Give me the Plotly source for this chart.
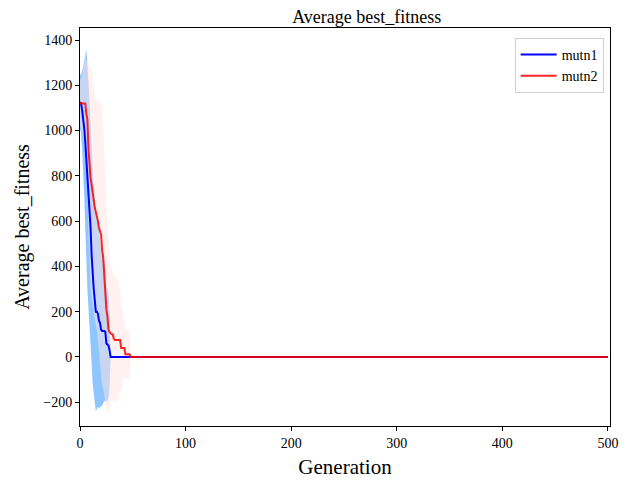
import plotly.graph_objects as go

n_gen = 501
generations = list(range(n_gen))

# mean best fitness per generation (first generations, zero afterwards)
mutn1_head = [1125, 1120, 1090, 1060, 1010, 950, 880, 800, 720, 640,
              570, 450, 350, 300, 250, 200, 200, 190, 160, 150,
              120, 115, 115, 115, 110, 60, 55, 50, 30, 0]
mutn1_std_head = [120, 130, 170, 220, 300, 380, 480, 500, 500, 490,
                  480, 480, 470, 460, 450, 440, 430, 410, 390, 370,
                  340, 330, 320, 310, 300, 260, 250, 230, 170, 0]

mutn2_head = [1125, 1120, 1120, 1120, 1120, 1120, 1075, 1050, 920, 820,
              790, 760, 720, 690, 660, 640, 625, 600, 570, 550,
              540, 470, 440, 360, 280, 210, 180, 120, 110, 105,
              100, 100, 80, 75, 75, 75, 75, 75, 75, 40,
              40, 40, 40, 12, 12, 12, 12, 12, 0]
mutn2_std_head = [100, 110, 130, 150, 180, 200, 230, 280, 380, 460,
                  490, 500, 500, 500, 500, 500, 510, 530, 550, 570,
                  590, 600, 580, 540, 480, 440, 420, 360, 320, 300,
                  290, 285, 280, 275, 275, 270, 260, 240, 220, 200,
                  160, 140, 130, 110, 110, 105, 105, 100, 0]

mutn1 = mutn1_head + [0] * (n_gen - len(mutn1_head))
mutn1_std = mutn1_std_head + [0] * (n_gen - len(mutn1_std_head))
mutn2 = mutn2_head + [0] * (n_gen - len(mutn2_head))
mutn2_std = mutn2_std_head + [0] * (n_gen - len(mutn2_std_head))

x_ticks = [0, 100, 200, 300, 400, 500]
y_ticks = [-200, 0, 200, 400, 600, 800, 1000, 1200, 1400]

font_family = "Liberation Serif, Times New Roman, serif"

fig = go.Figure()

def add_band(mean, std, color):
    lo = [m - s for m, s in zip(mean, std)]
    hi = [m + s for m, s in zip(mean, std)]
    fig.add_trace(go.Scatter(x=generations, y=lo, mode="lines", line=dict(width=0),
                             showlegend=False, hoverinfo="skip"))
    fig.add_trace(go.Scatter(x=generations, y=hi, mode="lines", line=dict(width=0),
                             fill="tonexty", fillcolor=color, showlegend=False,
                             hoverinfo="skip"))

add_band(mutn1, mutn1_std, "rgba(30,144,255,0.5)")
add_band(mutn2, mutn2_std, "rgba(255,228,225,0.5)")

fig.add_trace(go.Scatter(x=generations, y=mutn1, mode="lines", name="mutn1",
                         line=dict(color="#0000ff", width=2)))
fig.add_trace(go.Scatter(x=generations, y=mutn2, mode="lines", name="mutn2",
                         line=dict(color="rgba(255,0,0,0.85)", width=2)))

axis_common = dict(showgrid=False, zeroline=False, showline=True, linecolor="black",
                   linewidth=1, mirror=True, ticks="outside", ticklen=4, tickwidth=1,
                   tickcolor="black", automargin=False,
                   tickfont=dict(family=font_family, size=14, color="black"))

W, H = 623, 473
fig.update_layout(
    width=W, height=H,
    margin=dict(l=72, r=21, t=20, b=55),
    paper_bgcolor="white", plot_bgcolor="white",
    font=dict(family=font_family, color="black"),
    title=dict(text="Average best_fitness", x=(72 + 602) / 2 / W, xref="paper", xanchor="center",
               y=1 - 9 / H, yanchor="middle",
               font=dict(family=font_family, size=18, color="black")),
    xaxis=dict(range=[0, 502], tickvals=x_ticks,
               title=dict(text="Generation", font=dict(family=font_family, size=21), standoff=9),
               **axis_common),
    yaxis=dict(range=[-305, 1453], tickvals=y_ticks,
               title=dict(text="Average best_fitness", font=dict(family=font_family, size=20), standoff=8),
               **axis_common),
    legend=dict(x=0.988, y=0.975, xanchor="right", yanchor="top", traceorder="normal",
                bgcolor="rgba(255,255,255,0.8)", bordercolor="#d0d0d0", borderwidth=1,
                font=dict(family=font_family, size=14, color="black"),
                tracegroupgap=0, itemwidth=36),
)

fig.write_html("out.html")
